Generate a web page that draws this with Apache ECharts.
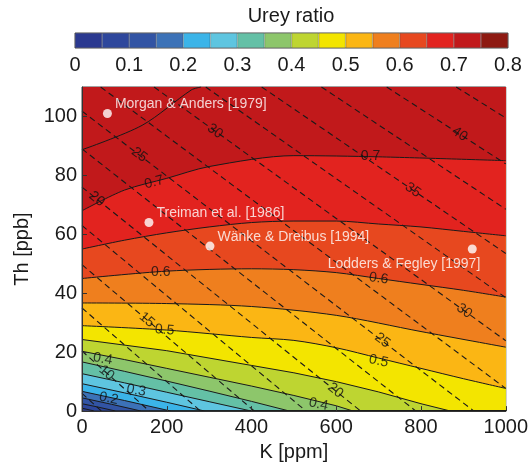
<!DOCTYPE html>
<html><head><meta charset="utf-8">
<script src="https://cdn.jsdelivr.net/npm/echarts@6/dist/echarts.min.js"></script>
<style>html,body{margin:0;padding:0;background:#fff}#c{width:531px;height:467px}</style>
</head><body><div id="c"></div>
<script>
// ---- Data ----
const kTicks = [0, 200, 400, 600, 800, 1000];
const thTicks = [0, 20, 40, 60, 80, 100];
const colorbarTicks = [0, 0.1, 0.2, 0.3, 0.4, 0.5, 0.6, 0.7, 0.8];

// Urey ratio bands (0-0.05, 0.05-0.1, ... 0.75-0.8)
const bandColors = ['#2b3990', '#2e479c', '#3254a4', '#3c72b7', '#3bb4e8', '#5ec5e0', '#64c0a6', '#8dc66b',
  '#bed531', '#f3e500', '#fbb614', '#ef7f1e', '#e7481f', '#e2231f', '#c1191b', '#8e1a12'];

// Solid contour levels and their (K [ppm], Th [ppb]) paths
const contourLevels = [0.05, 0.10, 0.15, 0.20, 0.25, 0.30, 0.35, 0.40, 0.45, 0.50, 0.55, 0.60, 0.65, 0.70, 0.75];
const c005 = [[0, 1], [30, 0], [1000, 0]];
const c010 = [[0, 2.5], [40, 1.3], [80, 0], [1000, 0]];
const c015 = [[0, 4.5], [70, 2.3], [140, 0], [1000, 0]];
const c020 = [[0, 6.7], [100, 3.6], [210, 0], [1000, 0]];
const c025 = [[0, 9.3], [100, 6.2], [200, 3], [290, 0], [1000, 0]];
const c030 = [[0, 12.7], [100, 9.6], [200, 6.4], [300, 3.2], [400, 0], [1000, 0]];
const c035 = [[0, 16.7], [100, 13.5], [200, 10.2], [300, 6.8], [400, 3.3], [490, 0], [1000, 0]];
const c040 = [[0, 20.3], [100, 17.5], [200, 14.5], [300, 11.5], [400, 8.5], [500, 5.3], [600, 1.8], [640, 0], [1000, 0]];
const c045 = [[0, 24.3], [200, 20.5], [400, 15.5], [500, 13], [600, 10], [700, 6.5], [800, 2.5], [870, 0], [1000, 0]];
const c050 = [[0, 29], [200, 27.5], [400, 25], [500, 24], [600, 21.5], [700, 18], [800, 14.5], [900, 11], [1000, 7.7]];
const c055 = [[0, 36.7], [200, 36.5], [400, 35.5], [600, 32.5], [800, 27], [1000, 21.7]];
const c060 = [[0, 45], [200, 47.5], [400, 48.3], [500, 48], [600, 47], [700, 45], [800, 43], [900, 41], [1000, 38.7]];
const c065 = [[0, 55], [100, 58], [200, 60.5], [300, 62.5], [400, 64], [500, 64.5], [600, 64.5], [700, 63.5], [800, 62.5], [900, 61], [1000, 59.5]];
const c070 = [[0, 68], [100, 75], [200, 79], [300, 83], [500, 86.7], [700, 86.3], [1000, 85]];
const c075 = [[0, 88.7], [142, 97], [258, 109], [281, 110]];

// Dashed iso-lines: level, start point, end point (K, Th)
const dashLevels = [7.5, 10, 12.5, 15, 17.5, 20, 22.5, 25, 27.5, 30, 32.5, 35, 37.5, 40, 42.5];
const dashStart = [[0, 6], [0, 20.4], [0, 35], [0, 49.7], [0, 63], [0, 76], [0, 89], [0, 101.8],
  [44, 110], [170, 110], [292, 110], [424, 110], [565, 110], [719, 110], [883, 110]];
const dashEnd = [[46, 0], [159, 0], [280, 0], [407, 0], [529, 0], [658, 0], [788, 0], [925, 0],
  [1000, 7.7], [1000, 23.9], [1000, 38.5], [1000, 53.5], [1000, 68.5], [1000, 83.9], [1000, 99.5]];

// Contour labels: text, K, Th, angle
const clabelText = ['0.7', '0.7', '0.6', '0.6', '0.5', '0.5', '0.4', '0.4', '0.3', '0.2',
  '10', '15', '20', '20', '25', '25', '30', '30', '35', '40'];
const clabelK = [170, 681, 186, 700, 195, 700, 49, 558, 128, 63,
  58, 153, 35, 598, 135, 709, 314, 902, 781, 891];
const clabelTh = [77.7, 86.7, 47.3, 45, 27.5, 17, 17.7, 2.3, 7, 4.3,
  13, 31, 72, 7, 87, 24, 95, 34, 75, 94];
const clabelAngle = [15, 0, 0, -8, -5, -12, -10, -12, -10, -12,
  -40, -40, -39, -39, -37, -37, -36, -36, -35, -34];

// Reference compositions
const refNames = ['Morgan & Anders [1979]', 'Treiman et al. [1986]', 'Wänke & Dreibus [1994]', 'Lodders & Fegley [1997]'];
const refK = [60, 158, 302, 921];
const refTh = [101, 64, 56, 55];

// ---- Chart ----
const FONT = '"Liberation Sans", Arial, Helvetica, sans-serif';
const chart = echarts.init(document.getElementById('c'), null, {renderer: 'canvas'});

const contourPaths = [c005, c010, c015, c020, c025, c030, c035, c040, c045, c050, c055, c060, c065, c070, c075];

const series = [];
contourLevels.forEach((lv, i) => {
  const s = {
    type: 'line', xAxisIndex: 0, yAxisIndex: 0,
    data: contourPaths[i], symbol: 'none', smooth: i >= 9 ? 0.3 : false,
    lineStyle: {color: '#1a1a1a', width: 1},
    silent: true, animation: false, z: 2
  };
  if (lv < 0.75) s.areaStyle = {color: bandColors[i + 1], opacity: 1, origin: 'end'};
  series.push(s);
});
dashLevels.forEach((lv, i) => {
  series.push({
    type: 'line', xAxisIndex: 0, yAxisIndex: 0,
    data: [dashStart[i], dashEnd[i]], symbol: 'none',
    lineStyle: {color: '#1a1a1a', width: 1.1, type: [6, 4]},
    silent: true, animation: false, z: 3
  });
});
series.push({
  type: 'scatter', xAxisIndex: 0, yAxisIndex: 0, symbolSize: 0, silent: true, animation: false, z: 4,
  data: clabelText.map((t, i) => ({
    name: t, value: [clabelK[i], clabelTh[i]],
    label: {show: true, position: 'inside', formatter: t, rotate: clabelAngle[i],
      fontSize: 14, color: '#111', fontFamily: FONT}
  }))
});
series.push({
  type: 'scatter', xAxisIndex: 0, yAxisIndex: 0, symbol: 'circle', symbolSize: 9,
  itemStyle: {color: '#fff'}, silent: true, animation: false, z: 5,
  data: refNames.map((n, i) => {
    const last = i === refNames.length - 1;
    return {
      name: n, value: [refK[i], refTh[i]],
      label: last ?
        {show: true, formatter: n, position: 'bottom', align: 'right', distance: 4, offset: [8, 0],
          color: '#fff', fontSize: 14, fontFamily: FONT} :
        {show: true, formatter: n, position: 'right', distance: 3, offset: [0, -9],
          color: '#fff', fontSize: 14, fontFamily: FONT}
    };
  })
});
// colorbar
series.push({
  type: 'bar', xAxisIndex: 1, yAxisIndex: 1, barWidth: '100%', barCategoryGap: 0,
  silent: true, animation: false,
  data: bandColors.map(c => ({value: 1, itemStyle: {color: c, borderColor: 'rgba(0,0,0,0.35)', borderWidth: 0.6}}))
});

chart.setOption({
  animation: false,
  backgroundColor: '#ffffff',
  textStyle: {fontFamily: FONT},
  graphic: [{
    type: 'text', x: 291, y: 16,
    style: {text: 'Urey ratio', fontSize: 20, fontFamily: FONT, fill: '#1a1a1a', textAlign: 'center', textVerticalAlign: 'middle'}
  }],
  grid: [
    {left: 82, top: 87, width: 430, height: 331, show: true, backgroundColor: bandColors[0], borderColor: '#444', borderWidth: 1, z: 0},
    {left: 75, top: 33, width: 433, height: 15, show: true, borderColor: '#555', borderWidth: 1}
  ],
  xAxis: [
    {type: 'value', gridIndex: 0, min: 0, max: 1000, interval: 200,
      axisLine: {show: true, lineStyle: {color: '#333'}}, axisTick: {show: true, inside: true, length: 5, lineStyle: {color: '#333'}},
      splitLine: {show: false},
      axisLabel: {fontSize: 20, color: '#1a1a1a', margin: 6, fontFamily: FONT,
        customValues: kTicks, formatter: v => String(v)},
      name: 'K [ppm]', nameLocation: 'middle', nameGap: 27,
      nameTextStyle: {fontSize: 20, color: '#1a1a1a', fontFamily: FONT}, z: 10},
    {type: 'category', gridIndex: 1, data: bandColors.map((c, i) => String(i)), show: false},
    {type: 'value', gridIndex: 1, min: 0, max: 0.8, interval: 0.1, position: 'bottom',
      axisLine: {show: false}, axisTick: {show: false}, splitLine: {show: false},
      axisLabel: {fontSize: 20, color: '#1a1a1a', margin: 7, fontFamily: FONT, customValues: colorbarTicks}}
  ],
  yAxis: [
    {type: 'value', gridIndex: 0, min: 0, max: 110,
      axisLine: {show: true, lineStyle: {color: '#333'}}, axisTick: {show: true, inside: true, length: 5, lineStyle: {color: '#333'}, customValues: thTicks},
      splitLine: {show: false},
      axisLabel: {fontSize: 20, color: '#1a1a1a', margin: 5, fontFamily: FONT, customValues: thTicks, formatter: v => String(v)},
      name: 'Th [ppb]', nameLocation: 'middle', nameGap: 49, nameRotate: 90,
      nameTextStyle: {fontSize: 20, color: '#1a1a1a', fontFamily: FONT}, z: 10},
    {type: 'value', gridIndex: 1, min: 0, max: 1, show: false}
  ],
  series: series
});
</script>
</body></html>
